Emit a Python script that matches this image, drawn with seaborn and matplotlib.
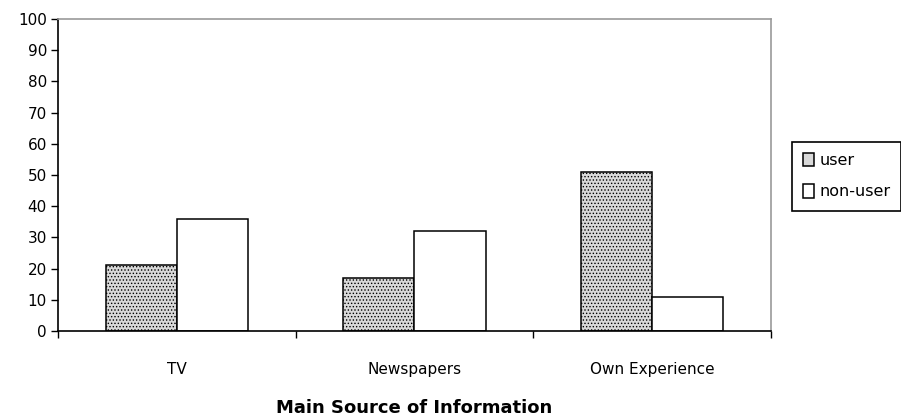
import pandas as pd
import matplotlib
matplotlib.use("Agg")
import matplotlib.pyplot as plt
import seaborn as sns

# values
sources = ["TV", "Newspapers", "Own Experience"]
user = [21, 17, 51]
non_user = [36, 32, 11]
groups = ["user", "non-user"]
y_ticks = list(range(0, 101, 10))

df = pd.DataFrame({
    "source": sources * 2,
    "group": ["user"] * 3 + ["non-user"] * 3,
    "value": user + non_user,
})

sns.set_style("white")
plt.rcParams["font.family"] = ["DejaVu Sans"]
plt.rcParams["text.color"] = "black"
plt.rcParams["xtick.color"] = "black"
plt.rcParams["ytick.color"] = "black"
plt.rcParams["axes.labelcolor"] = "black"
plt.rcParams["hatch.linewidth"] = 0.6
plt.rcParams["hatch.color"] = "black"

fig = plt.figure(figsize=(9.01, 4.2), dpi=100)
ax = fig.add_axes([58 / 901, 1 - 331 / 420, (771 - 58) / 901, (331 - 19) / 420])

sns.barplot(
    data=df, x="source", y="value", hue="group", hue_order=groups,
    order=sources, palette=["#d9d9d9", "white"], width=0.6, gap=0,
    edgecolor="black", linewidth=1.1, saturation=1, ax=ax,
)

# dotted fill on the user bars
for patch in ax.containers[0]:
    patch.set_hatch(".....")

ax.set_xlim(-0.5, 2.5)
ax.set_ylim(0, 100)
ax.set_yticks(y_ticks)
ax.tick_params(axis="y", length=5, width=1, pad=3, labelsize=11, direction="out", left=True)

ax.set_xticks(range(len(sources)))
ax.set_xticklabels(sources, fontsize=11)
ax.tick_params(axis="x", which="major", length=0, pad=22)
ax.set_xticks([-0.5, 0.5, 1.5, 2.5], minor=True)
ax.tick_params(axis="x", which="minor", length=5, width=1, direction="out", bottom=True)

ax.set_xlabel("Main Source of Information", fontsize=13, fontweight="bold", labelpad=16)
ax.set_ylabel("")

for side in ["left", "bottom"]:
    ax.spines[side].set_color("black")
    ax.spines[side].set_linewidth(1.2)
for side in ["top", "right"]:
    ax.spines[side].set_color("#9a9a9a")
    ax.spines[side].set_linewidth(1.2)

ax.legend_.remove()
handles, labels = ax.get_legend_handles_labels()
leg = fig.legend(
    handles, labels, loc="upper left", bbox_to_anchor=(792 / 901, 1 - 142 / 420),
    fontsize=11.5, frameon=True, fancybox=False, framealpha=1, edgecolor="black",
    handlelength=0.7, handleheight=0.9, handletextpad=0.3, borderpad=0.7,
    labelspacing=1.0, borderaxespad=0,
)
leg.get_frame().set_linewidth(1.2)

fig.savefig("out.png", dpi=100)
plt.close(fig)
